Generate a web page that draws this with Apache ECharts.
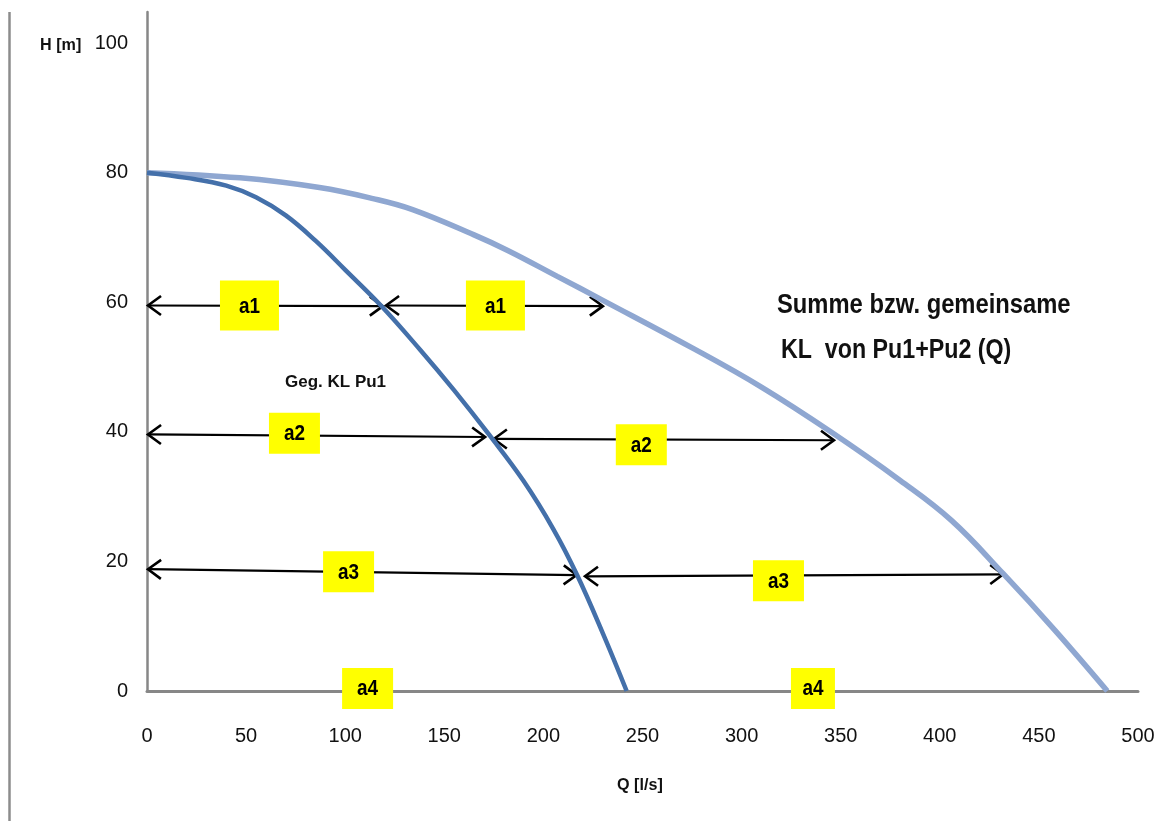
<!DOCTYPE html>
<html>
<head>
<meta charset="utf-8">
<title>Kennlinien Pu1 / Pu1+Pu2</title>
<script src="https://cdn.jsdelivr.net/npm/echarts@6/dist/echarts.min.js"></script>
<style>
  html, body { margin: 0; padding: 0; background: #fff; }
  #chart { width: 1170px; height: 821px; }
</style>
</head>
<body>
<div id="chart"></div>
<script>
// Kennlinie Pu1 (Q [l/s], H [m])
const pu1Q = [0, 20, 40, 55, 70, 85, 100, 118, 138, 155, 173, 190, 205, 217, 230, 242];
const pu1H = [80, 79.2, 78.0, 76.2, 73.4, 69.5, 65.0, 59.5, 52.6, 46.4, 39.4, 32.4, 25.0, 17.9, 8.9, 0];

// gemeinsame KL Pu1+Pu2
const sumQ = [0, 47, 87, 114, 134, 165, 182, 207, 230, 276, 310, 345, 380, 406, 432, 458, 484.5];
const sumH = [80, 79.2, 77.7, 76.0, 74.3, 70.4, 68.0, 64.0, 60.3, 52.8, 46.9, 40.0, 32.5, 26.3, 18.1, 9.4, 0];

// Doppelpfeile: Spitze links -> Spitze rechts, in (Q, H)
const arrowFrom = [[0.5, 59.5], [120.6, 59.5], [0.5, 39.6], [175, 38.9], [0.5, 18.8], [221, 17.7]];
const arrowTo = [[119, 59.4], [230, 59.4], [170.6, 39.2], [346.6, 38.7], [216.8, 17.9], [432, 18.0]];

// gelbe Markierungen
const boxText = ['a1', 'a1', 'a2', 'a2', 'a3', 'a3', 'a4', 'a4'];
const boxQ = [51.7, 175.8, 74.4, 249.4, 101.7, 318.6, 111.3, 336];
const boxH = [59.5, 59.5, 39.8, 38.0, 18.4, 17.0, 0.4, 0.4];

const xTicks = [0, 50, 100, 150, 200, 250, 300, 350, 400, 450, 500];
const yTicks = [0, 20, 40, 60, 80, 100];

const FONT = '"Liberation Sans", Arial, sans-serif';

const chart = echarts.init(document.getElementById('chart'));

// Pfeil mit offenen Spitzen an beiden Enden
function renderArrow(params, api) {
    const a = api.coord([api.value(0), api.value(1)]);
    const b = api.coord([api.value(2), api.value(3)]);
    const len = Math.hypot(b[0] - a[0], b[1] - a[1]) || 1;
    const ux = (b[0] - a[0]) / len, uy = (b[1] - a[1]) / len;
    const depth = 13, half = 9.5;
    const head = (tip, dir) => {
        const bx = tip[0] - dir * ux * depth, by = tip[1] - dir * uy * depth;
        return [[bx - uy * half, by + ux * half], tip, [bx + uy * half, by - ux * half]];
    };
    const headStyle = { stroke: '#000', lineWidth: 2.6, fill: null };
    return {
        type: 'group',
        children: [
            { type: 'line', shape: { x1: a[0], y1: a[1], x2: b[0], y2: b[1] },
              style: { stroke: '#000', lineWidth: 2.2 } },
            { type: 'polyline', shape: { points: head(a, -1) }, style: headStyle },
            { type: 'polyline', shape: { points: head(b, 1) }, style: headStyle }
        ]
    };
}

function renderBox(params, api) {
    const c = api.coord([api.value(0), api.value(1)]);
    const i = params.dataIndex;
    const w = i < 2 ? 59 : (i === 7 ? 44 : 51);
    const h = i < 2 ? 50 : 41;
    return {
        type: 'group',
        children: [
            { type: 'rect', shape: { x: c[0] - w / 2, y: c[1] - h / 2, width: w, height: h },
              style: { fill: '#FFFF00' } },
            { type: 'text', x: c[0], y: c[1] + 1, scaleX: 0.86,
              style: { text: boxText[i], x: 0, y: 0, align: 'center', verticalAlign: 'middle',
                       font: 'bold 22px ' + FONT, fill: '#000' } }
        ]
    };
}

const option = {
    animation: false,
    backgroundColor: '#fff',
    grid: { left: 147, right: 32, top: 12, bottom: 130 },
    xAxis: {
        type: 'value',
        min: xTicks[0],
        max: xTicks[xTicks.length - 1],
        interval: 50,
        axisLine: { show: true, onZero: false, lineStyle: { color: '#878787', width: 3 } },
        axisTick: { show: false },
        splitLine: { show: false },
        axisLabel: { color: '#111', fontFamily: FONT, fontSize: 20, margin: 35 }
    },
    yAxis: {
        type: 'value',
        min: yTicks[0],
        max: 104.8,
        interval: 20,
        axisLine: { show: true, onZero: false, lineStyle: { color: '#878787', width: 2.5 } },
        axisTick: { show: false },
        splitLine: { show: false },
        axisLabel: {
            color: '#111', fontFamily: FONT, fontSize: 20, margin: 19,
            showMaxLabel: false,
            formatter: v => (yTicks.indexOf(v) >= 0 ? String(v) : '')
        }
    },
    graphic: [
        { type: 'line', shape: { x1: 9.5, y1: 12, x2: 9.5, y2: 821 },
          style: { stroke: '#8c8c8c', lineWidth: 2.5 }, silent: true },
        { type: 'text', x: 40, y: 37, scaleX: 0.95,
          style: { text: 'H [m]', font: 'bold 17px ' + FONT, fill: '#111' } },
        { type: 'text', x: 617, y: 777, scaleX: 0.95,
          style: { text: 'Q [l/s]', font: 'bold 17px ' + FONT, fill: '#111' } },
        { type: 'text', x: 285, y: 374,
          style: { text: 'Geg. KL Pu1', font: 'bold 17px ' + FONT, fill: '#111' } },
        { type: 'text', x: 777, y: 292, scaleX: 0.88,
          style: { text: 'Summe bzw. gemeinsame', font: 'bold 27px ' + FONT, fill: '#111' } },
        { type: 'text', x: 781, y: 337, scaleX: 0.86,
          style: { text: 'KL  von Pu1+Pu2 (Q)', font: 'bold 27px ' + FONT, fill: '#111' } }
    ],
    series: [
        {
            name: 'Pfeile',
            type: 'custom',
            z: 1,
            silent: true,
            renderItem: renderArrow,
            encode: { x: [0, 2], y: [1, 3] },
            data: arrowFrom.map((p, i) => [p[0], p[1], arrowTo[i][0], arrowTo[i][1]])
        },
        {
            name: 'KL Pu1+Pu2',
            type: 'line',
            smooth: 0.4,
            showSymbol: false,
            z: 2,
            lineStyle: { color: '#8FA7D1', width: 5.5 },
            itemStyle: { color: '#8FA7D1' },
            data: sumQ.map((q, i) => [q, sumH[i]])
        },
        {
            name: 'Geg. KL Pu1',
            type: 'line',
            smooth: 0.4,
            showSymbol: false,
            z: 3,
            lineStyle: { color: '#4470AA', width: 4.5 },
            itemStyle: { color: '#4470AA' },
            data: pu1Q.map((q, i) => [q, pu1H[i]])
        },
        {
            name: 'Markierungen',
            type: 'custom',
            z: 5,
            silent: true,
            renderItem: renderBox,
            encode: { x: 0, y: 1 },
            data: boxQ.map((q, i) => [q, boxH[i]])
        }
    ]
};

chart.setOption(option);
window.onresize = chart.resize;
</script>
</body>
</html>
